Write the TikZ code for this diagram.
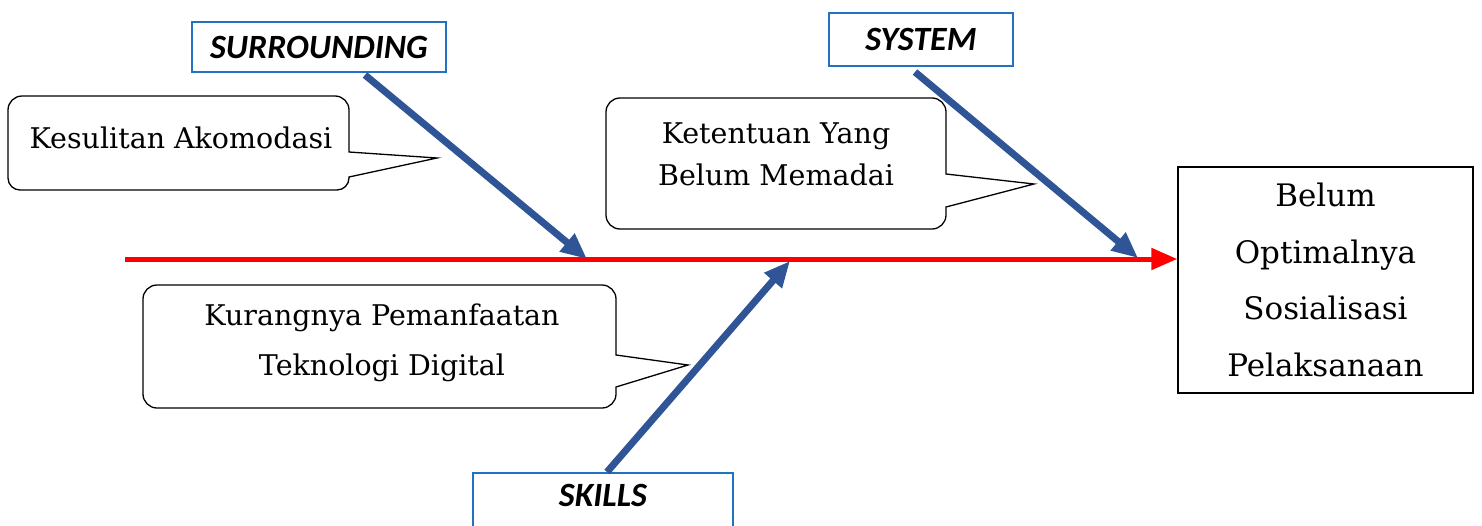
\documentclass[tikz,border=0pt]{standalone}
\usepackage{fontspec}
\setmainfont{DejaVu Serif}
\newfontfamily\catfont{Carlito}
\usetikzlibrary{arrows.meta}
\usetikzlibrary{positioning}

\definecolor{bonecol}{HTML}{2F5597}
\definecolor{catline}{HTML}{1F73C2}
\definecolor{spinecol}{HTML}{FF0000}

\tikzset{
  catbox/.style={draw=catline, line width=2.2pt, fill=white, inner sep=0pt,
    font=\catfont\bfseries\itshape\fontsize{34}{36}\selectfont},
  bone/.style={draw=bonecol, line width=7pt, -{Triangle[length=26pt,width=22pt]}},
  spine/.style={draw=spinecol, line width=5pt, -{Triangle[length=26pt,width=21pt]}},
  bubble/.style={draw=black, line width=1.3pt, rounded corners=14pt},
  bubbletext/.style={align=center, inner sep=0pt, font=\fontsize{28.5}{42}\selectfont},
  effectbox/.style={draw=black, line width=1.3pt, align=center, inner sep=0pt,
    minimum width=295pt, minimum height=226pt, font=\fontsize{31}{56.5}\selectfont}
}

\begin{document}
\begin{tikzpicture}[x=1pt,y=-1pt]
\clip (0,0) rectangle (1482,525);

% head of the fish
\node[effectbox] (effect) at (1325.5,280) {Belum\\Optimalnya\\Sosialisasi\\Pelaksanaan};

% spine
\coordinate (spinetail) at (125,259);
\draw[spine] (spinetail) -- (spinetail -| effect.west);

% categories
\node[catbox, minimum width=254pt, minimum height=50pt] (surr) at (319,47) {SURROUNDING};
\node[catbox, minimum width=184pt, minimum height=53pt] (sys) at (921,39.5) {SYSTEM};
\node[catbox, minimum width=260pt, anchor=north, text height=33pt, text depth=45pt] (skl) at (603,472) {SKILLS};

% bones
\coordinate (surrtail) at (365,75);
\coordinate (surrhead) at (587,259);
\coordinate (systail) at (915,72);
\coordinate (syshead) at (1138,258);
\coordinate (skltail) at (607,472);
\coordinate (sklhead) at (790,261);
\draw[bone] (surrtail) -- (surrhead);
\draw[bone] (systail) -- (syshead);
\draw[bone] (skltail) -- (sklhead);

% callouts
\draw[bubble] (8,140) -- (8,96) -- (349,96) [sharp corners] -- (349,152) -- (437,158)
  -- (349,177) -- (349,178) [rounded corners=12pt] -- (349,190) -- (8,190) -- cycle;
\node[bubbletext] (akom) at (181,138) {Kesulitan Akomodasi};

\draw[bubble] (606,160) -- (606,98) -- (946,98) [sharp corners] -- (946,174) -- (1034,184)
  -- (946,207) -- (946,208) [rounded corners=14pt] -- (946,229) -- (606,229) -- cycle;
\node[bubbletext] (ketentuan) at (776,154) {Ketentuan Yang\\Belum Memadai};

\draw[bubble] (143,340) -- (143,285) -- (616,285) [sharp corners] -- (616,355) -- (688,365)
  -- (616,387) -- (616,388) [rounded corners=14pt] -- (616,408) -- (143,408) -- cycle;
\node[bubbletext, font=\fontsize{28.5}{50}\selectfont] (teknologi) at (382,343) {Kurangnya Pemanfaatan\\Teknologi Digital};

\end{tikzpicture}
\end{document}
